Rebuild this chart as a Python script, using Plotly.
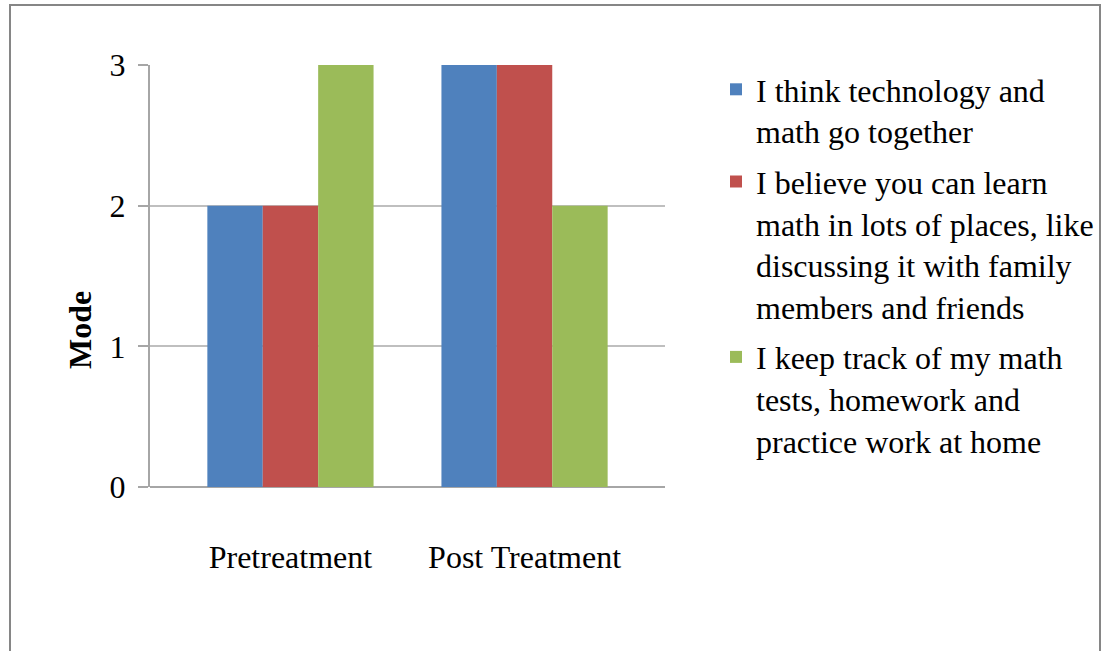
import plotly.graph_objects as go

categories = ["Pretreatment", "Post Treatment"]
series_names = [
    "I think technology and<br>math go together",
    "I believe you can learn<br>math in lots of places, like<br>discussing it with family<br>members and friends",
    "I keep track of my math<br>tests, homework and<br>practice work at home",
]
series_values = [
    [2, 3],
    [2, 3],
    [3, 2],
]
series_colors = ["#4F81BD", "#C0504D", "#9BBB59"]
y_ticks = [0, 1, 2, 3]

FONT = "Liberation Serif, Times New Roman, serif"
FS = 32

fig = go.Figure()
for i, (name, vals, col) in enumerate(zip(series_names, series_values, series_colors)):
    fig.add_trace(go.Bar(
        x=categories, y=vals, name=name, legendgroup=f"g{i}",
        marker=dict(color=col, line=dict(width=0)),
    ))

L, R, T, B = 150, 441, 65, 164
W, H = 1106, 651
pw, ph = W - L - R, H - T - B

def px_x(p):
    return (p - L) / pw

def px_y(p):
    return (H - B - p) / ph

fig.update_layout(
    width=W, height=H,
    margin=dict(l=L, r=R, t=T, b=B, autoexpand=False),
    paper_bgcolor="white", plot_bgcolor="white",
    font=dict(family=FONT, size=FS, color="black"),
    barmode="group", bargap=0.29, bargroupgap=0.0,
    showlegend=True,
    legend=dict(
        x=px_x(716), y=px_y(62), xanchor="left", yanchor="top",
        font=dict(family=FONT, size=FS, color="black"),
        tracegroupgap=6, valign="top", maxheight=600,
        bgcolor="rgba(0,0,0,0)",
    ),
    xaxis=dict(
        range=[-0.6, 1.6], showgrid=False, showline=False, zeroline=False,
        ticks="", tickfont=dict(family=FONT, size=FS),
        ticklabelstandoff=48,
    ),
    yaxis=dict(
        range=[0, 3], tickvals=y_ticks, ticktext=[str(v) for v in y_ticks],
        showgrid=True, gridcolor="#BFBFBF", gridwidth=2,
        showline=True, linecolor="#A6A6A6", linewidth=2,
        zeroline=True, zerolinecolor="#A6A6A6", zerolinewidth=2,
        ticks="outside", ticklen=10, tickcolor="#A6A6A6", tickwidth=2,
        tickfont=dict(family=FONT, size=FS),
        ticklabelstandoff=6,
    ),
    annotations=[dict(
        text="<b>Mode</b>", textangle=-90, xref="paper", yref="paper",
        x=px_x(80), y=px_y(330), xanchor="center", yanchor="middle",
        showarrow=False, font=dict(family=FONT, size=FS, color="black"),
    )],
    shapes=[dict(
        type="rect", xref="paper", yref="paper",
        x0=px_x(10), x1=px_x(1100), y0=px_y(700), y1=px_y(5),
        line=dict(color="#868686", width=2), fillcolor="rgba(0,0,0,0)", layer="below",
    )],
)

fig.write_html("out.html")
